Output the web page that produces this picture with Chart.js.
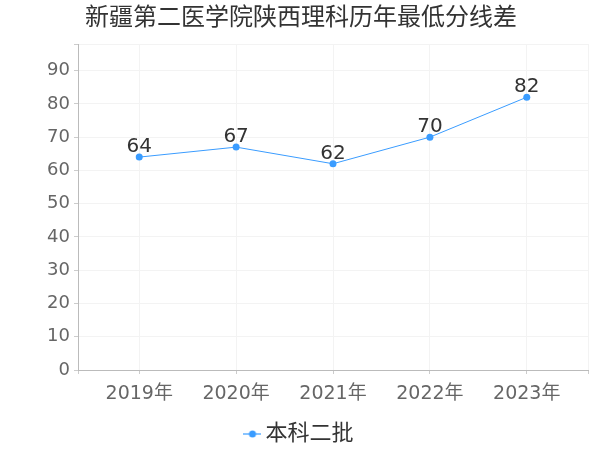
<!DOCTYPE html>
<html>
<head>
<meta charset="utf-8">
<script src="https://cdn.jsdelivr.net/npm/chart.js@4"></script>
<style>
html,body{margin:0;padding:0;background:#fff;}
#wrap{width:600px;height:450px;position:relative;}
</style>
</head>
<body>
<div id="wrap"><canvas id="c" width="600" height="450"></canvas></div>
<script>
const titleText = "新疆第二医学院陕西理科历年最低分线差";
const categories = ["2019年", "2020年", "2021年", "2022年", "2023年"];
const seriesName = "本科二批";
const seriesValues = [64, 67, 62, 70, 82];
const yTicks = [0, 10, 20, 30, 40, 50, 60, 70, 80, 90];

const FONT = '"DejaVu Sans", "Noto Sans CJK SC", sans-serif';
const LINE_COLOR = '#3a9cff';

// legend marker: line with dot
const marker = document.createElement('canvas');
marker.width = 18; marker.height = 10;
(function(){
  const g = marker.getContext('2d');
  g.strokeStyle = LINE_COLOR; g.lineWidth = 1.2;
  g.beginPath(); g.moveTo(0,5); g.lineTo(18,5); g.stroke();
  g.fillStyle = LINE_COLOR;
  g.beginPath(); g.arc(9,5,3.5,0,Math.PI*2); g.fill();
})();

const titlePlugin = {
  id: 'customTitle',
  afterDraw(chart) {
    const ctx = chart.ctx;
    ctx.save();
    ctx.font = '24px ' + FONT;
    ctx.fillStyle = '#333';
    ctx.textBaseline = 'middle';
    ctx.textAlign = 'left';
    ctx.fillText(titleText, 85, 19);
    ctx.restore();
  }
};

const labelPlugin = {
  id: 'valueLabels',
  afterDatasetsDraw(chart) {
    const ctx = chart.ctx;
    ctx.save();
    ctx.font = '20px ' + FONT;
    ctx.fillStyle = '#333';
    ctx.textAlign = 'center';
    ctx.textBaseline = 'alphabetic';
    chart.getDatasetMeta(0).data.forEach((pt, i) => {
      ctx.fillText(String(seriesValues[i]), pt.x, pt.y - 5);
    });
    ctx.restore();
  }
};

new Chart(document.getElementById('c'), {
  type: 'line',
  data: {
    datasets: [{
      label: seriesName,
      data: seriesValues.map((v, i) => ({x: i, y: v})),
      borderColor: LINE_COLOR,
      backgroundColor: LINE_COLOR,
      borderWidth: 1,
      pointRadius: 3.5,
      pointBackgroundColor: LINE_COLOR,
      pointBorderWidth: 0,
      pointStyle: 'circle',
      tension: 0,
      fill: false
    }]
  },
  options: {
    responsive: false,
    animation: false,
    devicePixelRatio: 1,
    layout: { padding: { top: 44, right: 12, left: 16, bottom: -5 } },
    plugins: {
      title: { display: false },
      tooltip: { enabled: false },
      legend: {
        display: true,
        position: 'bottom',
        labels: {
          usePointStyle: true,
          pointStyle: marker,
          pointStyleWidth: 4,
          font: { size: 22, family: FONT },
          color: '#333',
          padding: 10,
          generateLabels(chart) {
            return [{ text: seriesName, pointStyle: marker, fillStyle: LINE_COLOR, strokeStyle: LINE_COLOR, fontColor: '#333', lineWidth: 0, datasetIndex: 0 }];
          }
        }
      }
    },
    scales: {
      x: {
        type: 'linear',
        min: -0.632,
        max: 4.632,
        afterBuildTicks(scale) {
          scale.ticks = [{value: scale.min}].concat(categories.map((c, i) => ({value: i}))).concat([{value: scale.max}]);
        },
        afterFit(scale) { scale.height = 43; },
        ticks: {
          autoSkip: false,
          maxRotation: 0,
          padding: 9,
          font: { size: 19, family: FONT },
          color: '#666',
          callback(v) { return Number.isInteger(v) ? categories[v] : ''; }
        },
        grid: { color: '#f3f3f3', drawTicks: true, tickLength: 4, tickColor: '#ccc' },
        border: { display: true, color: '#bbb', width: 1 }
      },
      y: {
        type: 'linear',
        min: 0,
        max: 98,
        afterBuildTicks(scale) {
          scale.ticks = yTicks.map(v => ({value: v})).concat([{value: scale.max}]);
        },
        afterFit(scale) { scale.width = 62; },
        ticks: {
          padding: 4,
          font: { size: 18, family: FONT },
          color: '#666',
          callback(v) { return yTicks.includes(v) ? String(v) : ''; }
        },
        grid: { color: '#f3f3f3', drawTicks: true, tickLength: 4, tickColor: '#ccc' },
        border: { display: true, color: '#bbb', width: 1 }
      }
    }
  },
  plugins: [titlePlugin, labelPlugin]
});
</script>
</body>
</html>
